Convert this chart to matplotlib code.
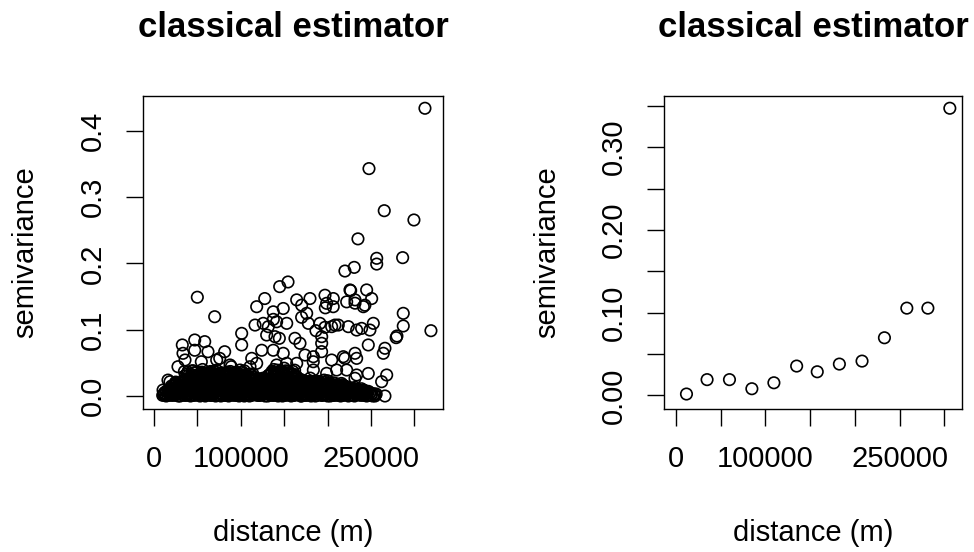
import matplotlib
matplotlib.use("Agg")
import matplotlib.pyplot as plt
import numpy as np

plt.rcParams['font.family'] = ['Liberation Sans', 'DejaVu Sans']

# ---------------- Left panel: variogram cloud ----------------
# dense lower part of the cloud (distance in km, semivariance in 1/1000)
cloud_dist_km = [
    10, 14, 18, 23, 26, 30, 35, 38, 42, 47, 50, 54, 59, 62, 66, 71, 74, 78, 83, 86,
    90, 95, 98, 102, 107, 110, 114, 119, 122, 126, 131, 134, 138, 143, 146, 150, 155, 158, 162, 167,
    170, 174, 179, 182, 186, 191, 194, 198, 203, 206, 210, 215, 218, 222, 227, 231, 236, 241, 245, 250,
    12, 16, 20, 24, 28, 33, 36, 40, 45, 48, 52, 57, 60, 64, 69, 72, 76, 81, 84, 88,
    93, 96, 100, 105, 108, 112, 117, 120, 124, 129, 132, 136, 141, 144, 148, 153, 156, 160, 165, 168,
    172, 177, 180, 184, 189, 192, 196, 201, 204, 208, 213, 216, 220, 225, 228, 233, 238, 243, 249, 254,
    18, 22, 27, 31, 34, 38, 43, 46, 50, 55, 58, 62, 67, 70, 74, 79, 82, 86, 91, 94,
    98, 103, 106, 110, 115, 118, 122, 127, 130, 134, 139, 142, 146, 151, 154, 158, 163, 166, 170, 175,
    178, 182, 187, 190, 194, 199, 202, 206, 211, 214, 218, 223, 226, 230, 235, 239, 243, 247, 232, 221,
    22, 26, 31, 35, 39, 43, 47, 51, 55, 59, 63, 67, 71, 75, 79, 83, 87, 91, 95, 99,
    103, 107, 111, 115, 119, 123, 127, 131, 135, 139, 143, 147, 151, 155, 159, 163, 167, 171, 175, 179,
    181, 184, 188, 191, 194, 198, 201, 205, 208, 211, 214, 217, 220, 223, 186, 196, 206, 216, 190, 200,
    33, 37, 41, 45, 49, 53, 57, 61, 65, 69, 73, 77, 81, 85, 89, 93, 97, 101, 105, 109,
    113, 117, 121, 125, 129, 133, 137, 141, 145, 149, 153, 157, 161, 165, 169, 173, 177, 181, 185, 189,
    193, 197, 201, 205, 209, 213, 36, 52, 68, 84, 100, 116, 132, 148, 164, 180, 196, 60, 92, 140,
    38, 42, 46, 50, 54, 58, 62, 66, 70, 74, 78, 82, 86, 90, 94, 98, 102, 106, 110, 114,
    132, 136, 140, 144, 148, 152, 156, 160, 164, 126, 118, 122, 44, 56, 72, 88, 104, 138, 150, 162,
    12, 20, 28, 37, 44, 52, 61, 68, 76, 85, 92, 100, 109, 116, 124, 133, 140, 148, 157, 164,
    172, 181, 188, 196, 205, 212, 220, 229, 236, 244, 16, 40, 64, 88, 112, 136, 160, 184, 208, 232,
    24, 32, 48, 56, 72, 80, 96, 104, 120, 128, 144, 152, 168, 176, 192, 200, 216, 224, 240, 28,
    20, 29, 37, 45, 53, 61, 69, 77, 85, 93, 101, 109, 117, 125, 133, 141, 149, 157, 165, 173,
    181, 189, 197, 205, 213, 221, 229, 25, 41, 57, 73, 89, 105, 121, 137, 153, 169, 185, 201, 217,
    40, 48, 56, 64, 72, 80, 88, 96, 104, 112, 136, 144, 152, 160, 35, 45, 55, 65, 75, 85,
    11, 16, 20, 25, 28, 32, 37, 40, 44, 49, 53, 56, 60, 65, 68, 72, 77, 80, 84, 89,
    92, 97, 100, 104, 109, 112, 116, 121, 124, 128, 133, 136, 140, 145, 148, 152, 157, 160, 164, 169,
    172, 176, 181, 184, 188, 193, 196, 200, 205, 208, 212, 217, 220, 224, 229, 233, 238, 242, 247, 252,
    14, 18, 22, 26, 30, 35, 38, 42, 47, 50, 54, 59, 62, 66, 71, 74, 78, 83, 86, 90,
    95, 98, 102, 107, 110, 114, 119, 122, 126, 131, 134, 138, 143, 146, 150, 155, 158, 162, 167, 170,
    174, 179, 182, 186, 191, 194, 198, 203, 206, 210, 215, 218, 222, 227, 230, 235, 240, 245, 251, 256,
    20, 24, 29, 33, 36, 40, 45, 48, 52, 57, 60, 64, 69, 72, 76, 81, 84, 88, 93, 96,
    100, 105, 108, 112, 117, 120, 124, 129, 132, 136, 141, 144, 148, 153, 156, 160, 165, 168, 172, 177,
    180, 184, 189, 192, 196, 201, 204, 208, 213, 216, 220, 225, 228, 233, 237, 241, 245, 219, 209, 199,
    24, 28, 33, 37, 41, 45, 49, 53, 57, 61, 65, 69, 73, 77, 81, 85, 89, 93, 97, 101,
    105, 109, 113, 117, 121, 125, 129, 133, 137, 141, 145, 149, 153, 157, 161, 165, 169, 173, 177, 183,
    35, 39, 43, 47, 51, 55, 59, 63, 67, 71, 75, 79, 83, 87, 91, 95, 99, 103, 107, 111,
    115, 119, 123, 127, 131, 135, 139, 143, 147, 151, 155, 159, 163, 167, 171, 175, 179, 183, 187, 191,
    40, 44, 48, 52, 56, 60, 64, 68, 72, 76, 80, 84, 88, 92, 96, 100, 104, 108, 112, 134,
    138, 142, 146, 150, 154, 158, 162, 39, 47, 55, 63, 71, 79, 87, 95, 103, 111, 146, 154, 142,
]
cloud_gamma_milli = [
    1, 0, 2, 1, 3, 0, 1, 2, 0, 1, 3, 1, 0, 2, 1, 0, 2, 3, 1, 0,
    2, 1, 0, 3, 1, 0, 2, 1, 1, 3, 0, 2, 1, 0, 1, 2, 3, 0, 1, 2,
    0, 1, 2, 1, 0, 3, 1, 2, 0, 1, 2, 0, 1, 3, 1, 0, 2, 1, 0, 1,
    5, 7, 4, 6, 8, 5, 7, 4, 6, 8, 5, 4, 7, 6, 5, 8, 4, 6, 7, 5,
    6, 4, 8, 5, 7, 6, 4, 5, 8, 7, 5, 6, 4, 7, 8, 5, 6, 4, 7, 5,
    8, 5, 6, 4, 7, 5, 8, 6, 4, 7, 5, 6, 8, 4, 6, 5, 7, 4, 5, 3,
    10, 12, 9, 13, 11, 10, 14, 12, 9, 11, 13, 10, 12, 14, 9, 11, 13, 10, 12, 11,
    13, 9, 11, 12, 10, 14, 11, 9, 13, 12, 10, 11, 14, 9, 12, 13, 10, 11, 12, 9,
    11, 13, 10, 12, 9, 11, 14, 12, 10, 13, 9, 11, 12, 10, 9, 11, 8, 7, 13, 14,
    16, 19, 15, 18, 17, 20, 16, 19, 15, 17, 20, 18, 16, 19, 17, 15, 20, 18, 16, 19,
    17, 15, 19, 18, 16, 20, 17, 15, 18, 19, 16, 20, 17, 15, 18, 16, 19, 17, 20, 16,
    18, 15, 17, 19, 16, 18, 15, 17, 16, 15, 14, 16, 15, 13, 20, 21, 20, 19, 22, 23,
    22, 25, 23, 26, 21, 24, 27, 22, 25, 23, 21, 26, 24, 22, 27, 23, 25, 21, 24, 26,
    23, 21, 25, 22, 24, 26, 22, 25, 23, 27, 21, 24, 26, 22, 25, 23, 21, 19, 22, 20,
    18, 16, 20, 17, 19, 15, 30, 31, 29, 32, 30, 28, 31, 33, 30, 27, 24, 34, 33, 32,
    33, 29, 35, 31, 28, 34, 30, 36, 32, 29, 35, 31, 33, 28, 34, 30, 36, 32, 29, 33,
    31, 35, 29, 33, 36, 30, 34, 32, 28, 27, 25, 26, 38, 40, 39, 37, 38, 40, 42, 39,
    3, 2, 4, 3, 2, 4, 3, 2, 4, 3, 2, 4, 3, 2, 4, 3, 3, 2, 4, 3,
    3, 2, 4, 3, 2, 4, 3, 2, 4, 3, 9, 8, 10, 8, 9, 7, 9, 8, 10, 8,
    9, 7, 10, 8, 9, 10, 7, 8, 9, 10, 8, 9, 7, 10, 9, 8, 10, 7, 6, 9,
    15, 14, 16, 15, 13, 16, 15, 14, 17, 15, 14, 16, 13, 14, 16, 15, 14, 17, 15, 14,
    14, 15, 13, 15, 14, 13, 12, 21, 22, 20, 23, 21, 22, 21, 23, 21, 21, 20, 19, 17,
    27, 28, 29, 27, 30, 29, 27, 28, 31, 27, 37, 36, 38, 37, 37, 38, 36, 37, 34, 36,
    2, 1, 1, 2, 0, 2, 1, 3, 1, 2, 0, 2, 2, 1, 3, 1, 0, 1, 2, 2,
    1, 2, 2, 0, 2, 1, 3, 1, 2, 0, 2, 1, 2, 3, 0, 1, 2, 1, 3, 0,
    2, 1, 0, 2, 1, 1, 3, 0, 2, 1, 1, 2, 2, 0, 1, 2, 1, 3, 1, 0,
    7, 6, 5, 7, 6, 6, 8, 5, 7, 6, 5, 7, 6, 8, 6, 5, 7, 6, 8, 6,
    6, 7, 5, 6, 8, 7, 5, 7, 6, 5, 7, 8, 6, 5, 6, 7, 5, 8, 6, 7,
    7, 6, 8, 5, 6, 7, 6, 5, 8, 6, 7, 5, 6, 7, 5, 6, 5, 6, 4, 3,
    12, 11, 13, 10, 12, 12, 11, 13, 12, 10, 11, 12, 13, 11, 12, 10, 11, 13, 12, 11,
    12, 11, 13, 12, 11, 10, 12, 13, 11, 12, 12, 10, 11, 13, 12, 11, 12, 13, 11, 12,
    12, 11, 10, 13, 12, 11, 10, 12, 11, 12, 10, 11, 9, 10, 8, 9, 7, 14, 15, 16,
    18, 17, 19, 16, 18, 17, 19, 18, 16, 18, 17, 19, 17, 18, 16, 18, 19, 17, 18, 17,
    18, 17, 16, 18, 19, 17, 18, 16, 17, 19, 18, 17, 18, 19, 16, 18, 17, 18, 17, 16,
    24, 23, 25, 24, 22, 25, 24, 23, 26, 24, 23, 25, 24, 22, 25, 23, 24, 25, 23, 24,
    24, 22, 23, 25, 23, 24, 23, 25, 24, 22, 24, 23, 25, 22, 23, 21, 22, 20, 21, 19,
    31, 32, 30, 33, 31, 32, 30, 32, 33, 31, 30, 32, 31, 33, 30, 32, 31, 30, 31, 33,
    32, 34, 31, 33, 35, 32, 31, 36, 35, 34, 35, 36, 34, 35, 36, 34, 33, 38, 37, 39,
]

# scattered upper part of the cloud
upper_dist_km = [
    312.2, 247.7, 265.3, 299.5, 235.0, 256.6, 256.6, 286.5, 220.0, 230.7,
    154.4, 144.8, 49.9, 127.6, 69.9, 319.1, 287.2, 287.2, 279.9, 279.0,
    164.4, 179.7, 197.0, 206.6, 225.8, 245.0, 250.8, 231.6, 170.1, 175.9,
    198.9, 206.5, 243.0, 231.6, 222.0, 118.3, 137.4, 148.9, 116.4, 125.9,
    141.3, 152.9, 177.8, 191.2, 208.5, 252.7, 248.8, 239.2, 233.5, 223.9,
    212.3, 170.1, 137.5, 131.7, 197.0, 186.6, 101.0, 101.0, 129.8, 139.4,
    162.4, 168.2, 193.2, 193.2, 124.1, 137.4, 148.9, 174.0, 246.9, 266.1,
    264.2, 231.6, 233.5, 220.0, 32.6, 46.9, 58.4, 46.9, 33.4, 62.2,
    81.4, 75.7, 54.5, 112.6, 183.5, 204.7, 110.6, 210.4, 27.6, 89.1,
    94.8, 246.9, 268.1, 262.3, 231.6, 16.1, 10.4, 118.3, 141.3, 152.8,
    164.4, 222.0, 198.9, 183.6, 233.5, 18.4, 72.2, 87.6, 99.1, 35.7,
    266.1, 254.6, 243.0, 241.2, 197.4, 226.6, 204.7, 144.4, 193.1, 183.6,
    218.1,
]
upper_gamma = [
    0.434, 0.343, 0.2795, 0.2655, 0.237, 0.2077, 0.199, 0.2087, 0.1885, 0.194,
    0.172, 0.165, 0.149, 0.147, 0.1196, 0.0985, 0.1247, 0.1056, 0.0905, 0.088,
    0.145, 0.147, 0.152, 0.147, 0.160, 0.160, 0.147, 0.145, 0.137, 0.1247,
    0.1398, 0.1347, 0.137, 0.140, 0.142, 0.1347, 0.127, 0.132, 0.107, 0.1096,
    0.112, 0.1096, 0.1096, 0.1096, 0.107, 0.1096, 0.0995, 0.102, 0.0995, 0.1046,
    0.107, 0.1187, 0.1156, 0.1046, 0.1036, 0.0985, 0.0945, 0.077, 0.092, 0.0895,
    0.087, 0.0795, 0.0795, 0.0895, 0.069, 0.069, 0.0644, 0.0618, 0.077, 0.072,
    0.0644, 0.0644, 0.0568, 0.0568, 0.077, 0.0845, 0.082, 0.069, 0.0644, 0.0668,
    0.0668, 0.0568, 0.0517, 0.0568, 0.0517, 0.0543, 0.0442, 0.0392, 0.0442, 0.0442,
    0.029, 0.034, 0.0317, 0.0216, 0.0267, 0.024, 0.009, 0.0493, 0.0468, 0.0493,
    0.0493, 0.0392, 0.0342, 0.0392, 0.0317, 0.0216, 0.0543, 0.0468, 0.0392, 0.0543,
    0.0, 0.0, 0.0015, 0.1347, 0.133, 0.159, 0.1046, 0.087, 0.0669, 0.0593,
    0.0593,
]

# ---------------- Right panel: binned variogram ----------------
bin_dist = [12000, 35000, 60000, 85000, 109600, 135000, 158000,
            182700, 208000, 233000, 258000, 281500, 306000]
bin_gamma = [0.0016, 0.019, 0.019, 0.008, 0.0152, 0.0354, 0.0285,
             0.0378, 0.0414, 0.0696, 0.1054, 0.1054, 0.347]

x_ticks = [0, 50000, 100000, 150000, 200000, 250000, 300000]
x_tick_labels = ['0', '', '100000', '', '', '250000', '']
left_y_ticks = [0.0, 0.1, 0.2, 0.3, 0.4]
left_y_labels = ['0.0', '0.1', '0.2', '0.3', '0.4']
right_y_ticks = [0.0, 0.05, 0.10, 0.15, 0.20, 0.25, 0.30, 0.35]
right_y_labels = ['0.00', '', '0.10', '', '0.20', '', '0.30', '']

title_text = 'classical estimator'
x_label = 'distance (m)'
y_label = 'semivariance'

assert len(cloud_dist_km) == len(cloud_gamma_milli)
assert len(upper_dist_km) == len(upper_gamma)

left_x = np.array(cloud_dist_km + upper_dist_km, dtype=float) * 1000.0
left_y = np.concatenate([np.array(cloud_gamma_milli, dtype=float) / 1000.0,
                         np.array(upper_gamma, dtype=float)])

fig = plt.figure(figsize=(9.74, 5.52), dpi=100)
ax1 = fig.add_axes([143 / 974, 1 - 409 / 552, 300 / 974, 313 / 552])
ax2 = fig.add_axes([664 / 974, 1 - 409 / 552, 298 / 974, 313 / 552])

FS = 21
MS = 68
LW = 1.2


def style(ax, yt, yl, xlim, ylim):
    ax.set_xlim(*xlim)
    ax.set_ylim(*ylim)
    ax.set_xticks(x_ticks)
    ax.set_xticklabels(x_tick_labels)
    ax.set_yticks(yt)
    ax.set_yticklabels(yl, rotation=90, va='center')
    ax.tick_params(direction='out', length=12.2, width=1.0, pad=14,
                   labelsize=FS, colors='black')
    for s in ax.spines.values():
        s.set_linewidth(1.0)
        s.set_color('black')
    ax.set_title(title_text, fontsize=25, fontweight='bold', pad=42.5)
    ax.set_xlabel(x_label, fontsize=FS)
    ax.set_ylabel(y_label, fontsize=FS)
    ax.xaxis.set_label_coords(0.5, -0.351)
    ax.yaxis.set_label_coords(-0.345, 0.5)


ax1.scatter(left_x, left_y, s=MS, facecolors='none', edgecolors='black',
            linewidths=LW)
style(ax1, left_y_ticks, left_y_labels, (-12700, 333000), (-0.0196, 0.4525))

ax2.scatter(bin_dist, bin_gamma, s=MS, facecolors='none', edgecolors='black',
            linewidths=LW)
style(ax2, right_y_ticks, right_y_labels, (-13090, 319600), (-0.0165, 0.3618))

fig.savefig('out.png', dpi=100)
